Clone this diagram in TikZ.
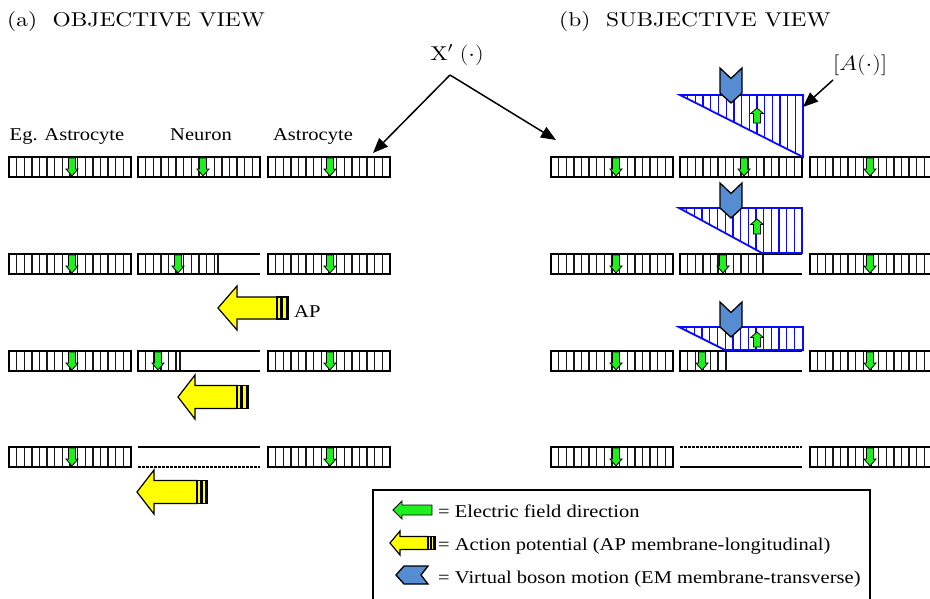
\documentclass[tikz,border=0pt]{standalone}
\usepackage{fontspec}
\newfontfamily\tms{Liberation Serif}
\newfontfamily\lmten{lmroman10-regular.otf}
\usetikzlibrary{arrows.meta}
\definecolor{gfill}{RGB}{30,240,30}
\definecolor{yfill}{RGB}{255,255,0}
\definecolor{bfill}{RGB}{86,140,210}
\definecolor{hblue}{RGB}{10,10,255}
\tikzset{
 barframe/.style={line width=2.2pt},
 barstripe/.style={line width=1.4pt, black!90},
 garr/.style={draw=black, fill=gfill, line width=0.8pt, line join=miter},
 yarr/.style={draw=black, fill=yfill, line width=1.2pt, line join=miter},
 boson/.style={draw=black, fill=bfill, line width=1.3pt, line join=miter},
 bluehatch/.style={hblue, line width=1.3pt},
 blueframe/.style={draw=hblue, line width=1.8pt},
 bigarrow/.style={line width=1.5pt, -{Triangle[length=15pt,width=12pt]}},
 lbl/.style={font=\tms\fontsize{18}{22}\selectfont, inner sep=0pt, xscale=1.14},
 cmlbl/.style={font=\lmten\fontsize{20}{24}\selectfont, inner sep=0pt, xscale=1.17},
}
\newcommand\fullbar[2]{%
 \foreach \k in {1,...,15} \draw[barstripe] ({#1+\k*7.625},#2) -- ++(0,20);
 \draw[barframe] (#1,#2) rectangle ++(122,20);}
\newcommand\partbar[3]{%
 \begin{scope}\clip (#1,#2) rectangle ++(#3,20);
 \foreach \k in {1,...,15} \draw[barstripe] ({#1+\k*7.625},#2) -- ++(0,20);
 \end{scope}
 \draw[barstripe] ({#1+#3},#2) -- ++(0,20);
 \draw[barframe] (#1+122,#2) -- (#1,#2) -- (#1,#2+20) -- (#1+122,#2+20);}
\newcommand\gdn[2]{\draw[garr] (#1-3.5,#2+1) -- (#1+3.5,#2+1) -- (#1+3.5,#2+12) -- (#1+6,#2+12) -- (#1,#2+19) -- (#1-6,#2+12) -- (#1-3.5,#2+12) -- cycle;}
\newcommand\gup[2]{\draw[garr] (#1-3.5,#2) -- (#1+3.5,#2) -- (#1+3.5,#2-9.5) -- (#1+6.3,#2-9.5) -- (#1,#2-15) -- (#1-6.3,#2-9.5) -- (#1-3.5,#2-9.5) -- cycle;}
\newcommand\bosondn[2]{\draw[boson] (#1-11,#2) -- (#1,#2+10.5) -- (#1+11,#2) -- (#1+11,#2+25) -- (#1,#2+35) -- (#1-11,#2+25) -- cycle;}
\newcommand\yarrow[7]{%
 \draw[yarr] (#1,#2) -- (#1+#3,#2-#4) -- (#1+#3,#2-#5) -- (#6,#2-#5) -- (#6,#2+#5) -- (#1+#3,#2+#5) -- (#1+#3,#2+#4) -- cycle;
 \draw[yarr] (#6,#2-#5) rectangle (#6+#7,#2+#5);
 \fill (#6+0.28*#7,#2-#5) rectangle (#6+0.58*#7,#2+#5);
 \fill (#6+0.78*#7,#2-#5) rectangle (#6+#7,#2+#5);}
\begin{document}
\begin{tikzpicture}[x=1pt,y=-1pt]
\useasboundingbox (0,0) rectangle (930,598);
\clip (0,0) rectangle (930,598);
% titles
\node[cmlbl, anchor=base west] (ta) at (7,26) {(a)~~OBJECTIVE VIEW};
\node[cmlbl, anchor=base west] (tb) at (559,26) {(b)~~SUBJECTIVE VIEW};
\node[lbl, anchor=base] (c1) at (67,140) {Eg. Astrocyte};
\node[lbl, anchor=base] (c2) at (201,140) {Neuron};
\node[lbl, anchor=base] (c3) at (313,140) {Astrocyte};
% left bars
\fullbar{9}{157}\fullbar{138}{157}\fullbar{268}{157}
\fullbar{9}{254}\partbar{138}{254}{80}\fullbar{268}{254}
\fullbar{9}{351}\partbar{138}{351}{42}\fullbar{268}{351}
\fullbar{9}{447}\fullbar{268}{447}
\draw[barframe] (138,447) -- (260,447);
\draw[line width=1.8pt, dash pattern=on 3pt off 1pt] (138,467) -- (260,467);
\gdn{72}{157}\gdn{203}{157}\gdn{330}{157}
\gdn{72}{254}\gdn{178}{254}\gdn{330}{254}
\gdn{72}{351}\gdn{158}{351}\gdn{330}{351}
\gdn{72}{447}\gdn{330}{447}
% right bars
\fullbar{551}{157}\fullbar{680}{157}\fullbar{810}{157}
\fullbar{551}{254}\partbar{680}{254}{83}\fullbar{810}{254}
\fullbar{551}{351}\partbar{680}{351}{46}\fullbar{810}{351}
\fullbar{551}{447}\fullbar{810}{447}
\draw[line width=1.8pt, dash pattern=on 3pt off 1pt] (680,447) -- (802,447);
\draw[barframe] (680,467) -- (802,467);
\gdn{616}{157}\gdn{744}{157}\gdn{870}{157}
\gdn{616}{254}\gdn{723}{254}\gdn{870}{254}
\gdn{616}{351}\gdn{702}{351}\gdn{870}{351}
\gdn{616}{447}\gdn{870}{447}
% AP arrows
\yarrow{218}{308}{19}{22}{11}{277}{11}
\yarrow{178}{397}{17}{22}{11.5}{237}{11}
\yarrow{137}{492}{17}{22}{11.5}{197}{10}
\node[lbl, anchor=base west] (ap) at (294,317) {AP};
% blue regions
\begin{scope}\clip (680,95) -- (803,95) -- (803,157) -- cycle;
 \foreach \k in {0,...,16} \draw[bluehatch] ({680+\k*7.7},90) -- ++(0,70);\end{scope}
\draw[blueframe] (680,95) -- (803,95) -- (803,157) -- cycle;
\begin{scope}\clip (679,208) -- (802,208) -- (802,253) -- (762,253) -- cycle;
 \foreach \k in {0,...,16} \draw[bluehatch] ({679+\k*7.7},200) -- ++(0,60);\end{scope}
\draw[blueframe] (679,208) -- (802,208) -- (802,253) -- (762,253) -- cycle;
\begin{scope}\clip (679,327) -- (803,327) -- (803,350) -- (725,350) -- cycle;
 \foreach \k in {0,...,16} \draw[bluehatch] ({679+\k*7.7},320) -- ++(0,40);\end{scope}
\draw[blueframe] (679,327) -- (803,327) -- (803,350) -- (725,350) -- cycle;
\bosondn{731}{68}\bosondn{731}{183}\bosondn{731}{302}
\gup{757}{123}\gup{757}{234}\gup{757}{347}
% labels with arrows
\node[cmlbl, anchor=base] (xlab) at (457,60) {X$'\;(\cdot)$};
\coordinate (apex) at (450,75);
\coordinate (xl) at (373,153);
\coordinate (xr) at (556,140);
\draw[bigarrow] (apex) -- (xl);
\draw[bigarrow] (apex) -- (xr);
\node[cmlbl, anchor=base west] (alab) at (833,70) {$[A(\cdot)]$};
\coordinate (as) at (833,80);
\coordinate (ae) at (803,107);
\draw[bigarrow] (as) -- (ae);
% legend
\draw[line width=1.5pt] (373,490) rectangle (870,620);
\draw[garr] (393,510) -- (402,501) -- (402,505) -- (432,505) -- (432,515) -- (402,515) -- (402,519) -- cycle;
\yarrow{390}{543}{10}{12}{6.5}{428}{7}
\draw[boson] (396,575) -- (404,566) -- (428,566) -- (421,575) -- (428,584) -- (404,584) -- cycle;
\node[lbl, anchor=base west] (l1) at (438,517) {= Electric field direction};
\node[lbl, anchor=base west] (l2) at (438,550) {= Action potential (AP membrane-longitudinal)};
\node[lbl, anchor=base west] (l3) at (438,583) {= Virtual boson motion (EM membrane-transverse)};
\end{tikzpicture}
\end{document}
